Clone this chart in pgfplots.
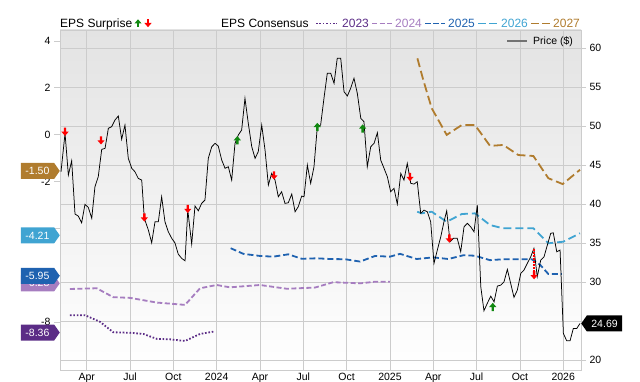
\documentclass[border=0pt]{standalone}
\usepackage{pgfplots}
\pgfplotsset{compat=1.18}
\usepackage{fontspec}
\setmainfont{Liberation Sans}
\usetikzlibrary{shapes.symbols}

\definecolor{c23}{HTML}{5B2C86}
\definecolor{c24}{HTML}{A67DC0}
\definecolor{c25}{HTML}{1F62B0}
\definecolor{c26}{HTML}{40A4D2}
\definecolor{c27}{HTML}{B07C2E}
\definecolor{gridc}{HTML}{CCCCCC}
\definecolor{upg}{HTML}{118811}
\definecolor{dnr}{HTML}{FF0000}

\pgfdeclareplotmark{uparrow}{%
  \pgfpathmoveto{\pgfpoint{-1.2pt}{-4pt}}%
  \pgfpathlineto{\pgfpoint{1.2pt}{-4pt}}%
  \pgfpathlineto{\pgfpoint{1.2pt}{0pt}}%
  \pgfpathlineto{\pgfpoint{3.6pt}{0pt}}%
  \pgfpathlineto{\pgfpoint{0pt}{4.2pt}}%
  \pgfpathlineto{\pgfpoint{-3.6pt}{0pt}}%
  \pgfpathlineto{\pgfpoint{-1.2pt}{0pt}}%
  \pgfpathclose\pgfusepathqfill}
\pgfdeclareplotmark{downarrow}{%
  \pgfpathmoveto{\pgfpoint{-1.2pt}{4pt}}%
  \pgfpathlineto{\pgfpoint{1.2pt}{4pt}}%
  \pgfpathlineto{\pgfpoint{1.2pt}{0pt}}%
  \pgfpathlineto{\pgfpoint{3.6pt}{0pt}}%
  \pgfpathlineto{\pgfpoint{0pt}{-4.2pt}}%
  \pgfpathlineto{\pgfpoint{-3.6pt}{0pt}}%
  \pgfpathlineto{\pgfpoint{-1.2pt}{0pt}}%
  \pgfpathclose\pgfusepathqfill}

\tikzset{
  s23/.style={c23, line width=1.8pt, dash pattern=on 1.6pt off 1.8pt},
  s24/.style={c24, line width=1.8pt, dash pattern=on 5pt off 2.5pt},
  s25/.style={c25, line width=1.8pt, dash pattern=on 6pt off 3pt},
  s26/.style={c26, line width=1.8pt, dash pattern=on 8pt off 4pt},
  s27/.style={c27, line width=1.8pt, dash pattern=on 9pt off 4pt},
  ltag/.style={shape=signal, signal to=east, signal pointer angle=110, fill=#1,
    text=white, font=\fontsize{10.5}{10.5}\selectfont, inner xsep=3pt, inner ysep=2pt,
    minimum height=16pt, minimum width=39pt, anchor=east},
  rtag/.style={shape=signal, signal to=west, signal pointer angle=110, fill=#1,
    text=white, font=\fontsize{10.5}{10.5}\selectfont, inner xsep=3pt, inner ysep=2pt,
    minimum height=16pt, minimum width=41pt, anchor=west},
}
\pgfplotsset{
  base/.style={at={(60pt,12pt)}, anchor=south west, width=521pt, height=340pt,
    scale only axis, xmin=1.151, xmax=37.23},
}

\begin{document}
\begin{tikzpicture}
\useasboundingbox (0pt,0pt) rectangle (640pt,382pt);

% frame axis: background, grid, price ticks, date labels
\begin{axis}[base,
  ymin=18.72, ymax=62.35,
  axis background/.style={top color=gray!22, middle color=gray!8, bottom color=white},
  axis line style={gridc, line width=0.8pt},
  xtick={3,6,...,36},
  xticklabels={Apr,Jul,Oct,2024,Apr,Jul,Oct,2025,Apr,Jul,Oct,2026},
  ytick={20,25,...,60},
  yticklabels={20,{},30,35,40,45,50,55,60},
  ytick pos=right, yticklabel pos=right, xtick pos=bottom,
  grid=major, grid style={gridc, line width=0.8pt},
  tick align=outside, major tick length=5pt,
  x tick style={draw=none}, y tick style={gridc, line width=0.8pt},
  tick label style={font=\fontsize{10.5}{12}\selectfont},
  xticklabel style={yshift=5.5pt},
]
\end{axis}

% EPS consensus axis
\begin{axis}[base,
  ymin=-10.05, ymax=4.47, clip=false,
  axis x line=none, axis y line*=left,
  y axis line style={gridc, line width=0.8pt},
  ytick={-8,-6,...,4}, yticklabels={-8,{},{},-2,0,2,4},
  tick align=outside, major tick length=6pt,
  y tick style={gridc, line width=0.8pt},
  tick label style={font=\fontsize{10.5}{12}\selectfont},
]
\addplot[s23] coordinates {(1.84,-7.71) (2.88,-7.71) (3.92,-7.99) (4.84,-8.44) (6.0,-8.46) (6.92,-8.51) (7.85,-8.72) (8.77,-8.74) (9.81,-8.81) (10.85,-8.51) (11.89,-8.40)};
\addplot[s24] coordinates {(1.84,-6.59) (3.69,-6.56) (4.84,-6.94) (6.0,-6.97) (7.85,-7.17) (9.81,-7.27) (10.85,-6.56) (12.0,-6.42) (12.92,-6.52) (15.0,-6.42) (16.85,-6.58) (18.81,-6.53) (20.08,-6.30) (21.93,-6.35) (22.97,-6.28) (24.0,-6.28)};
\addplot[s25] coordinates {(12.97,-4.85) (13.85,-5.09) (15.0,-5.18) (15.92,-5.21) (16.96,-5.11) (17.89,-5.30) (18.93,-5.28) (19.85,-5.31) (20.89,-5.32) (21.93,-5.42) (22.97,-5.18) (24.0,-5.21) (24.70,-5.09) (25.85,-5.31) (27.0,-5.24) (28.04,-5.31) (29.08,-5.15) (29.89,-5.17) (30.93,-5.36) (31.85,-5.32) (33.82,-5.32) (34.40,-5.56) (34.97,-5.95) (35.90,-5.95)};
\addplot[s26] coordinates {(25.89,-3.29) (26.19,-3.36) (26.89,-3.29) (27.93,-3.72) (28.97,-3.39) (29.89,-3.36) (30.93,-3.86) (31.85,-4.00) (32.89,-4.00) (33.93,-4.00) (34.97,-4.64) (36.01,-4.57) (37.16,-4.21)};
\addplot[s27] coordinates {(25.9,3.26) (26.31,2.33) (26.89,1.13) (27.93,-0.01) (28.97,0.41) (29.89,0.41) (30.93,-0.48) (31.85,-0.44) (32.89,-0.87) (33.93,-0.91) (34.97,-1.86) (35.96,-2.11) (37.16,-1.50)};
\node[ltag=c27] at (axis cs:1.151,-1.55) {-1.50};
\node[ltag=c26] at (axis cs:1.151,-4.30) {-4.21};
\node[ltag=c24] at (axis cs:1.151,-6.35) {-6.28};
\node[ltag=c25] at (axis cs:1.151,-6.03) {-5.95};
\node[ltag=c23] at (axis cs:1.151,-8.45) {-8.36};
\end{axis}

% price axis
\begin{axis}[base, ymin=18.72, ymax=62.35, axis lines=none, clip=false]
\addplot[black, line width=0.75pt] coordinates {
(1.22,44.16)(1.50,49.09)(1.73,43.74)(1.96,45.57)(2.19,38.73)(2.42,38.47)(2.65,37.61)(2.88,39.97)(3.11,39.59)(3.35,38.18)
(3.57,42.23)(3.80,43.52)(4.04,47.03)(4.27,47.16)(4.50,49.73)(4.73,49.94)(4.96,50.80)(5.19,51.31)(5.42,48.32)(5.65,50.15)
(5.88,45.88)(6.12,44.60)(6.34,44.16)(6.57,43.31)(6.81,43.09)(6.99,38.18)(7.27,36.68)(7.50,35.04)(7.73,37.74)(7.96,37.74)
(8.19,40.95)(8.42,37.74)(8.65,36.46)(8.89,35.61)(9.11,35.04)(9.34,33.59)(9.58,33.04)(9.81,32.73)(10.00,39.24)(10.27,34.88)
(10.50,39.76)(10.73,39.15)(10.96,40.10)(11.19,40.53)(11.42,45.88)(11.66,47.37)(11.89,47.80)(12.11,47.46)(12.35,45.66)(12.58,44.60)
(12.81,44.80)(13.04,43.09)(13.27,47.80)(13.50,48.87)(13.73,49.51)(13.96,53.58)(14.19,50.37)(14.43,47.37)(14.66,45.88)(14.88,46.73)
(15.12,50.15)(15.35,46.94)(15.58,42.45)(15.81,43.95)(16.04,43.09)(16.27,40.95)(16.50,41.59)(16.73,40.10)(16.96,40.18)(17.20,41.30)
(17.43,39.02)(17.65,39.67)(17.89,41.04)(18.05,40.95)(18.28,45.02)(18.51,42.67)(18.74,44.80)(18.97,49.94)(19.20,50.15)(19.43,53.58)
(19.66,56.79)(19.90,56.79)(20.13,55.51)(20.35,58.72)(20.59,58.72)(20.82,54.43)(21.05,53.88)(21.28,54.87)(21.51,56.15)(21.74,54.22)
(21.98,51.01)(22.20,50.58)(22.43,44.80)(22.67,47.37)(22.90,47.80)(23.13,49.17)(23.36,45.66)(23.59,44.60)(23.82,43.52)(24.05,41.59)
(24.28,42.03)(24.51,40.01)(24.75,43.95)(24.97,43.09)(25.20,45.24)(25.44,42.67)(25.67,42.58)(25.89,42.88)(26.13,38.82)(26.36,39.24)
(26.59,39.02)(26.82,37.74)(27.05,32.40)(27.28,34.11)(27.52,35.82)(27.74,37.74)(27.93,39.15)(28.16,35.17)(28.39,35.61)(28.66,35.61)
(28.90,33.89)(29.13,37.10)(29.36,37.54)(29.59,37.10)(29.82,36.46)(30.05,39.88)(30.29,29.40)(30.51,26.32)(30.74,27.27)(30.98,28.20)
(31.21,27.47)(31.44,29.49)(31.67,29.61)(31.90,30.04)(32.13,31.63)(32.36,29.83)(32.59,28.04)(32.82,28.97)(33.06,31.12)(33.28,31.54)
(33.51,32.40)(33.75,33.25)(33.97,34.33)(34.20,30.68)(34.44,32.82)(34.67,33.25)(34.90,34.75)(35.13,36.25)(35.31,36.33)(35.55,33.89)
(35.78,34.11)(36.01,23.41)(36.24,22.46)(36.47,22.46)(36.70,24.06)(36.94,24.06)(37.16,24.69)};
\addplot[dnr, line width=1.2pt, dash pattern=on 1.5pt off 1.5pt] coordinates {(33.98,34.2) (33.98,31.3)};
\addplot[only marks, mark=downarrow, dnr] coordinates {(1.50,49.3) (3.99,48.2) (6.99,38.3) (10.0,39.4) (15.97,43.7) (25.39,43.5) (28.11,35.6) (33.98,30.9)};
\addplot[only marks, mark=uparrow, upg] coordinates {(13.43,48.2) (18.97,49.9) (22.11,49.7) (31.12,26.8)};
\node[rtag=black] at (axis cs:37.23,24.69) {24.69};
\end{axis}

% top legend
\node[anchor=base west, inner sep=0pt, font=\fontsize{12}{12}\selectfont] at (60pt,354pt) {EPS Surprise};
\fill[upg] (136.8pt,354.5pt) rectangle (139.2pt,358.5pt);
\fill[upg] (134.4pt,358.5pt) -- (141.6pt,358.5pt) -- (138pt,362.7pt) -- cycle;
\fill[dnr] (146.8pt,363pt) rectangle (149.2pt,359pt);
\fill[dnr] (144.4pt,359pt) -- (151.6pt,359pt) -- (148pt,354.8pt) -- cycle;
\node[anchor=base west, inner sep=0pt, font=\fontsize{12}{12}\selectfont] at (221pt,354pt) {EPS Consensus};
\draw[s23] (316pt,358.5pt) -- (337pt,358.5pt);
\node[anchor=base west, inner sep=0pt, text=c23, font=\fontsize{12}{12}\selectfont] at (342pt,354pt) {2023};
\draw[c24, line width=1.8pt, dash pattern=on 5pt off 2.5pt] (372pt,358.5pt) -- (392pt,358.5pt);
\node[anchor=base west, inner sep=0pt, text=c24, font=\fontsize{12}{12}\selectfont] at (395pt,354pt) {2024};
\draw[c25, line width=1.8pt, dash pattern=on 5.5pt off 2.5pt] (425pt,358.5pt) -- (445pt,358.5pt);
\node[anchor=base west, inner sep=0pt, text=c25, font=\fontsize{12}{12}\selectfont] at (448pt,354pt) {2025};
\draw[c26, line width=1.8pt, dash pattern=on 8pt off 3pt] (478pt,358.5pt) -- (497pt,358.5pt);
\node[anchor=base west, inner sep=0pt, text=c26, font=\fontsize{12}{12}\selectfont] at (501pt,354pt) {2026};
\draw[c27, line width=1.8pt, dash pattern=on 8pt off 3pt] (531pt,358.5pt) -- (550pt,358.5pt);
\node[anchor=base west, inner sep=0pt, text=c27, font=\fontsize{12}{12}\selectfont] at (553pt,354pt) {2027};
% price legend
\draw[black!55, line width=1.6pt] (507pt,341pt) -- (527pt,341pt);
\node[anchor=base west, inner sep=0pt, font=\fontsize{10.5}{12}\selectfont] at (533pt,337.3pt) {Price (\$)};
\end{tikzpicture}
\end{document}
